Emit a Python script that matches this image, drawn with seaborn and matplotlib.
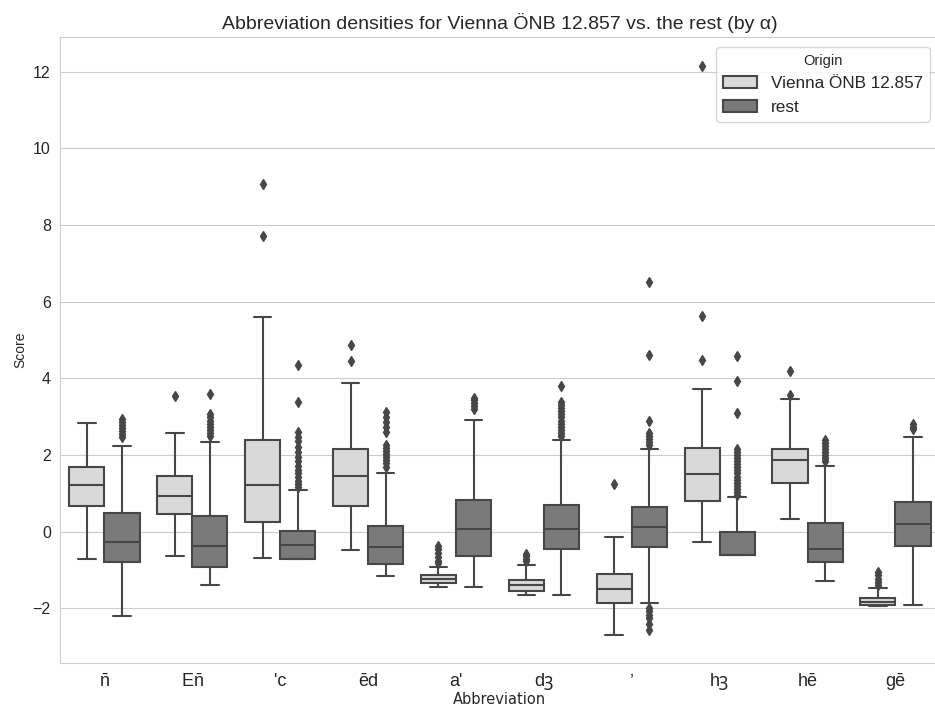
import numpy as np
import pandas as pd
import matplotlib
matplotlib.use("Agg")
import matplotlib.pyplot as plt
import seaborn as sns

# categories / groups
abbreviations = ["n\u0304", "En\u0304", "'c", "ēd", "a'", "dꝫ", "\u2019", "hꝫ", "hē", "gē"]
tick_labels = [r"$\bar{\mathrm{n}}$", r"E$\bar{\mathrm{n}}$", "'c", "ēd", "a'",
               "dꝫ", "\u2019", "hꝫ", "hē", "gē"]
origins = ["Vienna ÖNB 12.857", "rest"]

# box summaries (whisker low, q1, median, q3, whisker high)
vienna_lo = [-0.72, -0.63, -0.69, -0.48, -1.44, -1.64, -2.68, -0.27, 0.32, -1.93]
vienna_q1 = [0.66, 0.45, 0.25, 0.68, -1.34, -1.55, -1.86, 0.79, 1.27, -1.91]
vienna_med = [1.23, 0.94, 1.23, 1.45, -1.24, -1.40, -1.49, 1.51, 1.87, -1.82]
vienna_q3 = [1.68, 1.45, 2.39, 2.16, -1.14, -1.25, -1.10, 2.19, 2.17, -1.73]
vienna_hi = [2.83, 2.57, 5.59, 3.89, -0.92, -0.88, -0.13, 3.73, 3.47, -1.47]
vienna_fliers = [
    [],
    [3.54],
    [7.70, 9.06],
    [4.44, 4.86],
    [-0.82, -0.76, -0.66, -0.55, -0.45, -0.38],
    [-0.76, -0.70, -0.64, -0.58],
    [1.25],
    [4.48, 5.62, 12.15],
    [3.56, 4.20],
    [-1.40, -1.30, -1.22, -1.14, -1.06],
]

rest_lo = [-2.20, -1.40, -0.70, -1.15, -1.43, -1.65, -1.86, -0.61, -1.29, -1.90]
rest_q1 = [-0.80, -0.92, -0.70, -0.84, -0.64, -0.46, -0.39, -0.61, -0.80, -0.38]
rest_med = [-0.26, -0.38, -0.35, -0.39, 0.06, 0.06, 0.13, -0.61, -0.44, 0.19]
rest_q3 = [0.49, 0.41, 0.03, 0.16, 0.84, 0.71, 0.64, 0.00, 0.22, 0.77]
rest_hi = [2.24, 2.34, 1.08, 1.53, 2.91, 2.40, 2.17, 0.90, 1.71, 2.47]
rest_fliers = [
    [2.48, 2.56, 2.63, 2.70, 2.78, 2.86, 2.94],
    [2.49, 2.58, 2.66, 2.74, 2.82, 2.90, 2.98, 3.06, 3.60],
    [1.16, 1.24, 1.33, 1.42, 1.52, 1.62, 1.72, 1.84, 1.96, 2.08, 2.22, 2.36,
     2.48, 2.60, 3.39, 4.36],
    [1.70, 1.78, 1.86, 1.94, 2.02, 2.10, 2.18, 2.26, 2.60, 2.72, 2.86, 3.00, 3.12],
    [3.20, 3.28, 3.36, 3.44, 3.50],
    [2.50, 2.58, 2.66, 2.74, 2.82, 2.90, 2.98, 3.06, 3.14, 3.22, 3.30, 3.38, 3.80],
    [-2.56, -2.40, -2.26, -2.16, -2.08, -2.00,
     2.26, 2.34, 2.42, 2.50, 2.58, 2.88, 4.62, 6.51],
    [0.96, 1.04, 1.12, 1.20, 1.28, 1.36, 1.44, 1.52, 1.60, 1.68, 1.76, 1.84,
     1.92, 2.00, 2.08, 2.16, 3.09, 3.94, 4.59],
    [1.84, 1.92, 2.00, 2.08, 2.16, 2.24, 2.32, 2.40],
    [2.67, 2.74, 2.80],
]


def expand(lo, q1, med, q3, hi, fliers):
    """sample whose quartiles / whiskers / fliers equal the given summary"""
    low = sorted(f for f in fliers if f < lo)
    high = sorted(f for f in fliers if f > hi)
    a, b = len(low), len(high)
    k = max(a, b) + 2
    return (low + [lo] + [q1] * (k - a) + [med] * k + [q3] * k
            + [q3] * (k - b - 1) + [hi] + high)


rows = []
stats = {
    origins[0]: (vienna_lo, vienna_q1, vienna_med, vienna_q3, vienna_hi, vienna_fliers),
    origins[1]: (rest_lo, rest_q1, rest_med, rest_q3, rest_hi, rest_fliers),
}
for origin, (lo, q1, med, q3, hi, fl) in stats.items():
    for i, abbr in enumerate(abbreviations):
        for v in expand(lo[i], q1[i], med[i], q3[i], hi[i], fl[i]):
            rows.append((abbr, origin, v))
df = pd.DataFrame(rows, columns=["Abbreviation", "Origin", "Score"])

sns.set_style("whitegrid")
plt.rcParams["font.family"] = ["Liberation Sans", "Noto Sans", "DejaVu Sans"]
plt.rcParams["mathtext.fontset"] = "custom"
plt.rcParams["mathtext.rm"] = "Liberation Sans"
plt.rcParams["mathtext.it"] = "Liberation Sans:italic"

line_col = "#474747"
fig = plt.figure(figsize=(9.35, 7.06), dpi=100)
ax = fig.add_axes([0.0647, 0.061, 0.94, 0.886])
sns.boxplot(data=df, x="Abbreviation", y="Score", hue="Origin",
            order=abbreviations, hue_order=origins,
            palette={origins[0]: "#d9d9d9", origins[1]: "#7a7a7a"},
            linecolor=line_col, linewidth=1.5, fliersize=5,
            flierprops=dict(marker="d", markerfacecolor=line_col,
                            markeredgecolor=line_col),
            ax=ax)

ax.set_xticks(range(len(abbreviations)), labels=tick_labels)
ax.set_title("Abbreviation densities for Vienna ÖNB 12.857 vs. the rest (by α)",
             fontsize=14, pad=6)
ax.set_xlabel("Abbreviation", fontsize=10.5, family=["DejaVu Sans"], labelpad=1)
ax.set_ylabel("Score", fontsize=10)
ax.tick_params(axis="x", labelsize=13, pad=4)
ax.tick_params(axis="y", labelsize=11.5)
sns.move_legend(ax, "upper right", title="Origin", fontsize=12.3,
                title_fontsize=10.5, bbox_to_anchor=(1.0, 1.0),
                borderaxespad=0.56)

fig.savefig("out.png", dpi=100)
